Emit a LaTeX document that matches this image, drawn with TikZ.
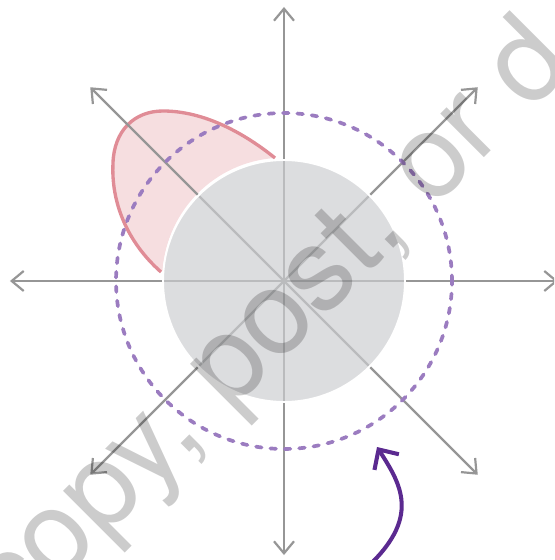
\documentclass[tikz,border=0pt]{standalone}
\usepackage{fontspec}
\usepackage{tikz}
\usepackage{xcolor}
\usetikzlibrary{arrows.meta}
\newfontfamily\markfont{TeX Gyre Heros}
\definecolor{AxisGray}{HTML}{969696}
\definecolor{CoreGray}{HTML}{CCCDD0}
\definecolor{OrbitPurple}{HTML}{9B7CC0}
\definecolor{TurnPurple}{HTML}{5B2A90}
\definecolor{PetalLine}{HTML}{E08C96}
\definecolor{PetalFill}{HTML}{F6DEE0}

\begin{document}
\begin{tikzpicture}[
  x=0.02cm, y=0.02cm,
  axis/.style={{Straight Barb[length=2.4mm,width=4mm]}-, line width=1.25pt, AxisGray},
  core/.style={circle, draw=white, line width=1.1pt, fill=CoreGray, fill opacity=0.68, minimum size=4.84cm, inner sep=0pt},
  orbit/.style={circle, draw=OrbitPurple, line width=2.1pt, line cap=round, dash pattern=on 3.2pt off 5pt, minimum size=6.72cm, inner sep=0pt},
  turn/.style={-{Straight Barb[length=3mm,width=5.8mm]}, line width=2.3pt, TurnPurple},
  stamptext/.style={inner sep=0pt, anchor=base west, rotate=45, black, opacity=0.2, font=\markfont\fontsize{67}{67}\selectfont}
]
\useasboundingbox (-284,-279) rectangle (270,281);
\clip (-284,-279) rectangle (270,281);
\coordinate (O) at (0,0);
\fill[PetalFill] (-123,9) .. controls (-158,40) and (-173,80) .. (-171,118)
  .. controls (-170,150) and (-150,170) .. (-121,170)
  .. controls (-80,170) and (-40,148) .. (-9,123)
  arc[start angle=94, end angle=176, radius=121] -- cycle;
\draw[PetalLine, line width=1.9pt] (-123,9) .. controls (-158,40) and (-173,80) .. (-171,118)
  .. controls (-170,150) and (-150,170) .. (-121,170)
  .. controls (-80,170) and (-40,148) .. (-9,123);
\foreach \a in {0,45,...,315}{
  \coordinate (tip\a) at (\a:274);
  \draw[axis] (tip\a) -- (O);
}
\node[core] (disc) at (O) {};
\node[orbit] (ring) at (O) {};
\coordinate (tail) at (72,-296);
\coordinate (head) at (93,-166);
\draw[turn] (tail) .. controls (140,-240) and (118,-205) .. (head);
\node[stamptext] (stamp) at (-270,-347) {copy, post, or d};
\end{tikzpicture}
\end{document}
